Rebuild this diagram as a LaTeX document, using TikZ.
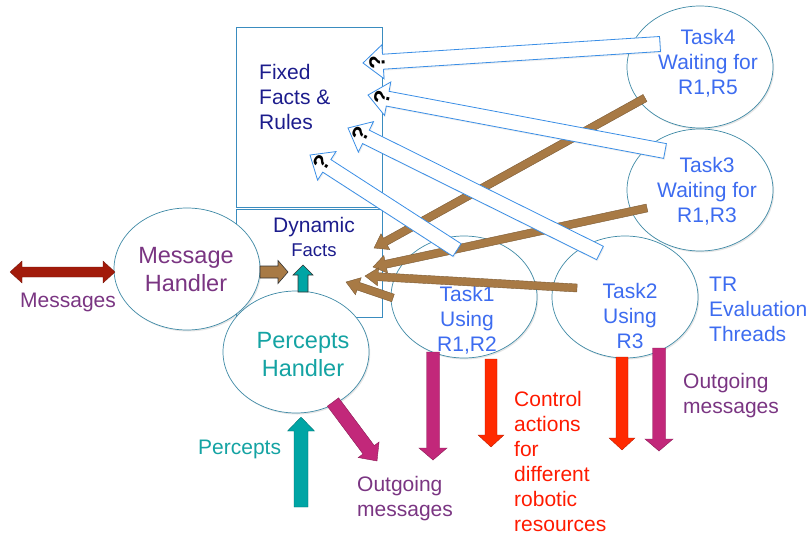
\documentclass[tikz,border=0pt]{standalone}
\usepackage{fontspec}
\setmainfont{Liberation Sans}
\usetikzlibrary{calc,shapes.geometric,shadows}

\definecolor{boxline}{HTML}{3A8CBF}
\definecolor{ellline}{HTML}{3F8AA6}
\definecolor{navytext}{HTML}{1C1C8C}
\definecolor{taskblue}{HTML}{3D6CF0}
\definecolor{msgpurple}{HTML}{7A3582}
\definecolor{percteal}{HTML}{14A3A3}
\definecolor{ctrlred}{HTML}{FF1A00}
\definecolor{brownarr}{HTML}{A87A45}
\definecolor{brownedge}{HTML}{7A5A35}
\definecolor{whiteedge}{HTML}{3A8EE6}
\definecolor{magentaarr}{HTML}{C2287A}
\definecolor{magentaedge}{HTML}{8A1A55}
\definecolor{redarr}{HTML}{FF2A00}
\definecolor{rededge}{HTML}{B01A00}
\definecolor{tealarr}{HTML}{00A5A5}
\definecolor{tealedge}{HTML}{006B6B}
\definecolor{darkred}{HTML}{A21B0B}

% block arrow: [style]{from}{to}{half shaft width}{half head width}{head length}
\newcommand{\blockarrow}[6][]{%
  \coordinate (ba-h) at ($(#3)!#6!(#2)$);
  \path[#1] ($(#2)!#4!90:(#3)$) -- ($(ba-h)!#4!90:(#3)$) -- ($(ba-h)!#5!90:(#3)$)
    -- (#3) -- ($(ba-h)!#5!-90:(#3)$) -- ($(ba-h)!#4!-90:(#3)$)
    -- ($(#2)!#4!-90:(#3)$) -- cycle;}

% block arrow with a head at both ends
\newcommand{\doubleblockarrow}[6][]{%
  \coordinate (da-h1) at ($(#2)!#6!(#3)$);
  \coordinate (da-h2) at ($(#3)!#6!(#2)$);
  \path[#1] (#2) -- ($(da-h1)!#5!90:(#3)$) -- ($(da-h1)!#4!90:(#3)$)
    -- ($(da-h2)!#4!90:(#3)$) -- ($(da-h2)!#5!90:(#3)$) -- (#3)
    -- ($(da-h2)!#5!-90:(#3)$) -- ($(da-h2)!#4!-90:(#3)$)
    -- ($(da-h1)!#4!-90:(#3)$) -- ($(da-h1)!#5!-90:(#3)$) -- cycle;}

\tikzset{
  ell/.style={ellipse, draw=ellline, line width=0.7pt, fill=white,
    minimum width=146pt, minimum height=122pt, inner sep=0pt,
    drop shadow={shadow xshift=1.2pt, shadow yshift=-1.5pt, opacity=0.2}},
  factbox/.style={rectangle, draw=boxline, line width=1pt, inner sep=0pt},
  txt/.style={inner sep=0pt, font=\fontsize{21}{25}\selectfont},
  tasktxt/.style={txt, text=taskblue, align=center},
  handlertxt/.style={inner sep=0pt, align=center, font=\fontsize{23.5}{28}\selectfont},
  whitearrow/.style={fill=white, draw=whiteedge, line width=0.8pt,
    drop shadow={shadow xshift=1pt, shadow yshift=-1.5pt, opacity=0.12}},
  brownarrow/.style={fill=brownarr, draw=brownedge, line width=0.4pt},
  magentaarrow/.style={fill=magentaarr, draw=magentaedge, line width=0.4pt},
  redarrow/.style={fill=redarr, draw=rededge, line width=0.3pt},
  tealarrow/.style={fill=tealarr, draw=tealedge, line width=0.3pt},
  qmark/.style={inner sep=0pt, font=\fontsize{22}{22}\selectfont\bfseries},
}

\begin{document}
\begin{tikzpicture}[x=1pt, y=-1pt]
\useasboundingbox (0,0) rectangle (810,535);

% knowledge base: fixed part and dynamic part
\node[factbox, minimum width=146pt, minimum height=179pt] (fixedbox) at (309,117.5) {};
\node[factbox, minimum width=146pt, minimum height=108pt] (dynbox) at (309,263) {};
\node[txt, text=navytext, align=left, anchor=west] (fixedtxt) at (259,97) {Fixed\\Facts \&\\Rules};
\node[txt, text=navytext] (dyntxt) at (314,227) {Dynamic};
\node[inner sep=0pt, text=navytext, font=\fontsize{18.5}{22}\selectfont] (dynfacts) at (314,250) {Facts};

% handlers
\node[ell] (mh) at (187,269) {};
\node[handlertxt, text=msgpurple] (mhtxt) at (186,270) {Message\\Handler};
\node[ell] (ph) at (296,352) {};
\node[handlertxt, text=percteal] (phtxt) at (303,355) {Percepts\\Handler};

% TR evaluation threads
\node[ell] (t4) at (700,67) {};
\node[tasktxt] (t4txt) at (708,63.5) {Task4\\Waiting for\\R1,R5};
\node[ell] (t3) at (700,190) {};
\node[tasktxt] (t3txt) at (707,191.5) {Task3\\Waiting for\\R1,R3};
\node[ell] (t1) at (464,297) {};
\node[tasktxt] (t1txt) at (467,320.5) {Task1\\Using\\R1,R2};
\node[ell] (t2) at (625,297) {};
\node[tasktxt] (t2txt) at (630,315.5) {Task2\\Using\\R3};

% arrow end points
\coordinate (b4s) at (645,98);  \coordinate (b4e) at (374,248);
\coordinate (b3s) at (647,208); \coordinate (b3e) at (373,267);
\coordinate (b2s) at (577,288); \coordinate (b2e) at (365,276);
\coordinate (b1s) at (393,298); \coordinate (b1e) at (346,282);

\coordinate (w4s) at (660,44);  \coordinate (w4e) at (363,63);
\coordinate (w3s) at (665,151); \coordinate (w3e) at (368,95);
\coordinate (w2s) at (600,253); \coordinate (w2e) at (348,128);
\coordinate (w1s) at (457,250); \coordinate (w1e) at (310,155);

% updates of the dynamic facts
\blockarrow[brownarrow]{b4s}{b4e}{4pt}{9pt}{13pt}
\blockarrow[brownarrow]{b3s}{b3e}{4pt}{9pt}{13pt}
\blockarrow[brownarrow]{b2s}{b2e}{4pt}{9pt}{13pt}
\blockarrow[brownarrow]{b1s}{b1e}{4pt}{9pt}{13pt}

% queries of the fixed facts and rules
\blockarrow[whitearrow]{w4s}{w4e}{7.5pt}{17pt}{20pt}
\blockarrow[whitearrow]{w3s}{w3e}{7.5pt}{17pt}{20pt}
\blockarrow[whitearrow]{w2s}{w2e}{7.5pt}{17pt}{20pt}
\blockarrow[whitearrow]{w1s}{w1e}{7.5pt}{17pt}{20pt}
\node[qmark, rotate=94] (q4) at ($(w4e)!14pt!(w4s)$) {?};
\node[qmark, rotate=79] (q3) at ($(w3e)!14pt!(w3s)$) {?};
\node[qmark, rotate=64] (q2) at ($(w2e)!14pt!(w2s)$) {?};
\node[qmark, rotate=57] (q1) at ($(w1e)!14pt!(w1s)$) {?};

% handlers into the dynamic facts
\coordinate (mhs) at (260,272); \coordinate (mhe) at (288,272);
\blockarrow[brownarrow, draw=black!80, line width=0.6pt]{mhs}{mhe}{6pt}{11.5pt}{10pt}
\coordinate (phs) at (303,292); \coordinate (phe) at (303,265);
\blockarrow[tealarrow, draw=black!80, line width=0.6pt]{phs}{phe}{5pt}{10pt}{10pt}

% incoming messages and percepts
\coordinate (msgl) at (10,272); \coordinate (msgr) at (115,272);
\doubleblockarrow[fill=darkred, draw=darkred!70!black, line width=0.3pt]{msgl}{msgr}{5pt}{11pt}{12pt}
\node[txt, text=msgpurple, anchor=west] (msglbl) at (20,302) {Messages};

\coordinate (pcs) at (301,507); \coordinate (pce) at (301,417);
\blockarrow[tealarrow]{pcs}{pce}{7pt}{13.5pt}{14pt}
\node[txt, text=percteal, anchor=west] (pclbl) at (198,449) {Percepts};

% outgoing messages from the percepts handler
\coordinate (pos) at (333,402); \coordinate (poe) at (377,461);
\blockarrow[magentaarrow]{pos}{poe}{7pt}{13pt}{14pt}
\node[txt, text=msgpurple, align=left, anchor=west] (polbl) at (357,499) {Outgoing\\messages};

% outputs of the running tasks
\coordinate (t1ms) at (433,352); \coordinate (t1me) at (433,460);
\blockarrow[magentaarrow]{t1ms}{t1me}{6.5pt}{14pt}{12pt}
\coordinate (t1rs) at (491,359); \coordinate (t1re) at (491,447);
\blockarrow[redarrow]{t1rs}{t1re}{6pt}{13pt}{12pt}
\coordinate (t2rs) at (622,357); \coordinate (t2re) at (622,450);
\blockarrow[redarrow]{t2rs}{t2re}{6pt}{13pt}{12pt}
\coordinate (t2ms) at (659,348); \coordinate (t2me) at (659,451);
\blockarrow[magentaarrow]{t2ms}{t2me}{6.5pt}{14pt}{12pt}

\node[txt, text=ctrlred, align=left, anchor=west] (ctrllbl) at (514,461)
  {Control\\actions\\for\\different\\robotic\\resources};
\node[txt, text=taskblue, align=left, anchor=west] (trlbl) at (709,309)
  {TR\\Evaluation\\Threads};
\node[txt, text=msgpurple, align=left, anchor=west] (outlbl) at (683,396)
  {Outgoing\\messages};
\end{tikzpicture}
\end{document}
